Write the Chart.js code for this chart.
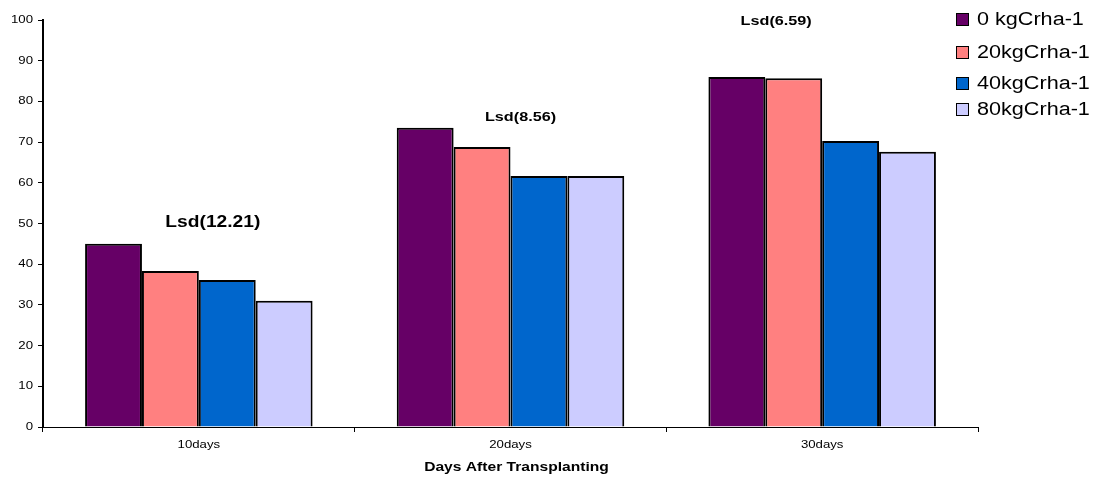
<!DOCTYPE html>
<html>
<head>
<meta charset="utf-8">
<script src="https://cdn.jsdelivr.net/npm/chart.js@4/dist/chart.umd.min.js"></script>
<style>
  html, body { margin: 0; padding: 0; background: #fff; }
</style>
</head>
<body>
<canvas id="c" width="1098" height="478"></canvas>
<script>
const categories = ["10days", "20days", "30days"];
const seriesNames = ["0 kgCrha-1", "20kgCrha-1", "40kgCrha-1", "80kgCrha-1"];
const s0 = [45.0, 73.5, 86.0];
const s20 = [38.3, 68.8, 85.7];
const s40 = [36.1, 61.7, 70.3];
const s80 = [31.0, 61.7, 67.6];
const colors = ["#660066", "#FF8080", "#0066CC", "#CCCCFF"];
const yTicks = [0, 10, 20, 30, 40, 50, 60, 70, 80, 90, 100];
const xTitle = "Days After Transplanting";
const lsdLabels = ["Lsd(12.21)", "Lsd(8.56)", "Lsd(6.59)"];

// Lsd notes: offset from the category centre (px), height in axis units, font size
const lsdPlacement = [
  { dx: 14, y: 50.2, size: 16 },
  { dx: 10, y: 76.0, size: 13.5 },
  { dx: -46, y: 99.8, size: 13.5 }
];

const FONT = "'Liberation Sans', Arial, sans-serif";
const WIDE = 1.2; // text is set slightly wide

function wideText(ctx, text, x, y, font, align) {
  ctx.save();
  ctx.font = font;
  ctx.textAlign = align;
  ctx.textBaseline = 'middle';
  ctx.translate(x, y);
  ctx.scale(WIDE, 1);
  ctx.fillText(text, 0, 0);
  ctx.restore();
}

const textPlugin = {
  id: 'texts',
  afterDraw(chart) {
    const { ctx, chartArea, scales: { x, y } } = chart;
    ctx.save();
    ctx.fillStyle = '#000';

    // value axis labels
    yTicks.forEach(v => {
      wideText(ctx, String(v), chartArea.left - 10, y.getPixelForValue(v), '11px ' + FONT, 'right');
    });

    // category labels and axis title
    categories.forEach((c, i) => {
      wideText(ctx, c, x.getPixelForValue(i), chartArea.bottom + 18, '11px ' + FONT, 'center');
    });
    wideText(ctx, xTitle, (chartArea.left + chartArea.right) / 2 + 6, chartArea.bottom + 40, 'bold 13px ' + FONT, 'center');

    // Lsd notes above each group
    lsdLabels.forEach((t, i) => {
      const p = lsdPlacement[i];
      wideText(ctx, t, x.getPixelForValue(i) + p.dx, y.getPixelForValue(p.y), 'bold ' + p.size + 'px ' + FONT, 'center');
    });

    // legend at the upper right
    const legendY = [20, 53, 84, 110];
    seriesNames.forEach((n, i) => {
      const cy = legendY[i];
      ctx.fillStyle = colors[i];
      ctx.fillRect(956.5, cy - 6.5, 12, 12);
      ctx.strokeStyle = '#000';
      ctx.lineWidth = 1;
      ctx.strokeRect(956.5, cy - 6.5, 12, 12);
      ctx.fillStyle = '#000';
      wideText(ctx, n, 977, cy + 0.5, '18px ' + FONT, 'left');
    });
    ctx.restore();
  }
};

const data = {
  labels: categories,
  datasets: [s0, s20, s40, s80].map((v, i) => ({
    label: seriesNames[i],
    data: v,
    backgroundColor: colors[i],
    borderColor: '#000',
    borderWidth: 2,
    borderSkipped: 'bottom',
    barPercentage: 1.0,
    categoryPercentage: 0.73
  }))
};

new Chart(document.getElementById('c'), {
  type: 'bar',
  data,
  options: {
    responsive: false,
    animation: false,
    layout: { padding: { top: 20, right: 120, bottom: 0, left: 0 } },
    plugins: {
      legend: { display: false },
      tooltip: { enabled: false }
    },
    scales: {
      x: {
        offset: true,
        grid: { offset: true, drawOnChartArea: false, drawTicks: true, tickLength: 5, color: '#000', lineWidth: 1 },
        border: { display: true, color: '#000', width: 1 },
        ticks: { display: false },
        afterFit(s) { s.height = 51; }
      },
      y: {
        min: 0,
        max: 100,
        afterBuildTicks(s) { s.ticks = yTicks.map(v => ({ value: v })); },
        grid: { drawOnChartArea: false, drawTicks: true, tickLength: 5, color: '#000', lineWidth: 1 },
        border: { display: true, color: '#000', width: 2 },
        ticks: { display: false },
        afterFit(s) { s.width = 43; }
      }
    }
  },
  plugins: [textPlugin]
});
</script>
</body>
</html>
